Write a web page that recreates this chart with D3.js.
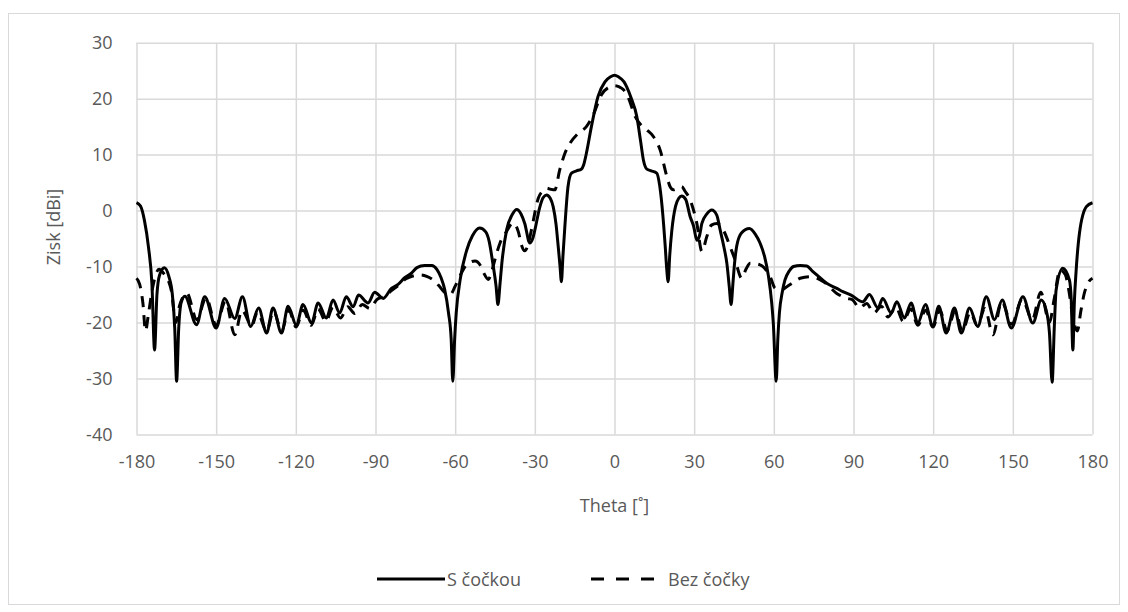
<!DOCTYPE html>
<html><head><meta charset="utf-8">
<script src="https://cdn.jsdelivr.net/npm/d3@7"></script>
<style>
html,body{margin:0;padding:0;background:#fff;}
svg{display:block;}
text{font-family:"Open Sans",sans-serif;fill:#595959;}
</style></head>
<body>
<svg id="chart" width="1128" height="612"></svg>
<script>
// ---- data ----
const xTicks = [-180,-150,-120,-90,-60,-30,0,30,60,90,120,150,180];
const yTicks = [30,20,10,0,-10,-20,-30,-40];
const seriesNames = ["S čočkou","Bez čočky"];

const thetaS = [-180,-178.5,-177,-175.5,-174.2,-173.2,-172.3,-171.3,-169.5,-167.8,-166.5,-165.6,-164.9,-164.1,-163.2,-161.8,
 -157.4,-154.3,-150,-146.8,-143,-140.1,-137,-134,-131,-128.6,-125.4,-122.9,-119.8,-117.3,-114.1,-111.6,-108.5,-106,-103.5,-101,-98.4,-96.4,-92.8,-90.3,-87.1,-84,
 -81.5,-79,-76.5,-74.4,-71.5,-68.8,-66.9,-65.3,-64,-62.5,-61.5,-60.9,-60.2,-59.6,-58.1,-55.6,-53.5,-50.8,-48.5,-47.2,-45.8,-44.6,-43.9,-43.1,-42.4,-40.6,-38.5,-36.8,-35.2,-33.8,-31.9,-30.8,-30,-28.2,-26.9,-25.6,-24.2,-23.1,-22,-21.2,-20.5,-20,-19.4,-18.7,-17.5,-16.2,-14.3,-12.5,-11.6,-10.6,-8.7,-6.2,-3.6,-1.5,
 0,1.5,3.6,4.6,6.2,8.4,9.8,10.9,12.2,13.8,15.9,17,17.8,18.5,19.1,19.6,20.2,20.8,21.6,23,24.2,25.3,26.8,28.5,29.8,31,32,32.9,34.8,36.6,38.5,39.8,41.2,42.3,43.2,43.9,44.6,45.2,46,47.8,50.8,53,54.8,56.5,58,59.2,59.8,60.9,61.5,62.1,63.2,64.2,65.8,67.4,70,72.4,74.5,76.2,79.9,83.7,
 86,89.1,93.5,96,99.2,101,104.2,106.3,109.2,111.7,114.2,117.1,119.9,122.1,124.9,128,130.6,133.7,136.8,140,143.1,146,149.4,153.8,157.5,160.7,162.5,163.8,164.8,165.6,166.3,168.8,171.3,172,172.6,173.2,173.8,175.1,177.7,180];
const gainS = [1.4,0.8,-1.8,-6.5,-13,-24.9,-15,-11.5,-10.2,-11.8,-15,-21,-30.5,-21,-16.5,-15.3,
 -20.4,-15.4,-21,-15.7,-19.3,-15.4,-20.7,-17.4,-21.9,-17.4,-21.9,-17.1,-20.5,-16.8,-20.1,-16.5,-19.2,-16,-18.3,-15.4,-17.2,-15.1,-16.5,-14.6,-15.7,-13.9,
 -13.2,-12,-11.2,-10.2,-9.8,-9.8,-10.5,-12,-14,-18.3,-23,-30.5,-23,-18.3,-12.3,-7,-4.5,-3.1,-3.8,-5.5,-9.5,-13.5,-16.8,-13,-9.3,-3.4,-0.7,0.2,-0.6,-2.3,-5.8,-5,-3.5,0.5,2.3,2.8,2.2,0.7,-2.5,-6.4,-10,-12.7,-8,-2.9,4.3,6.7,7.1,7.4,8.2,10.2,15,20.4,23,23.9,
 24.2,23.9,23,22.1,20.2,16.8,12.5,9,7.4,7.1,6.7,4.5,1.3,-2.5,-6.4,-10,-12.7,-8,-3.5,0.8,2.2,2.6,2,-1.1,-2.8,-5.3,-4.5,-2.3,-0.6,0.1,-0.8,-3.5,-6.5,-9.4,-13.5,-16.8,-13,-9.5,-6.4,-4,-3.2,-4.2,-5.8,-8.2,-11.8,-16.5,-20.1,-30.5,-23,-18.3,-14.5,-12.4,-10.8,-10,-9.8,-9.9,-10.8,-11.5,-13,-13.9,
 -14.5,-15.1,-16.3,-15,-17.4,-15.7,-18.3,-16.3,-19.2,-16.5,-20.1,-16.8,-20.7,-17.1,-21.9,-17.4,-21.9,-17.4,-20.7,-15.4,-19.5,-16,-21,-15.4,-20.1,-16,-17.7,-21.9,-30.7,-21,-14.2,-10.3,-12.4,-16,-24.9,-16,-11,-4,0.7,1.4];

const thetaB = [-180,-178.8,-177.6,-176.6,-175.5,-174.2,-172.8,-171.5,-169.8,-168,-166.8,-165.2,-163.8,-161,-157.3,-153.8,-150,-146.5,-143,-140.3,-136.6,-134.5,-131,-128.4,-125.3,-122.7,-119.9,-117.2,-114.2,-111.6,-108.7,-106,-103.2,-100.5,-97.8,-95,-92.1,-89.5,-86.5,-84,-81.5,-78.5,-76,-73,-70.5,-68,-66,-64,-61.8,-60,-58,-55.6,-52.5,-50.5,-49.3,-47.5,-46.3,-45,-43.1,-40.6,-38.3,-36.2,-35,-33.8,-32.5,-31.3,-28.7,-26.5,-25.6,-24,-22.5,-20.6,-18.7,-16.8,-13.7,-10.6,-8,-4.9,-1.8,
 0,1.8,3.4,4.9,7.8,10.6,12.2,14.7,17.2,19.7,21,22.2,25.3,26.5,28.5,31,32.9,34.8,36.5,38.5,41,43.5,45.4,47.9,49.5,51.1,54.8,58.6,60.5,62.5,64.9,67.5,69.9,73.7,78.7,83.7,87.5,
 89.5,92.3,95,97.6,100.5,103,106,108.7,111.6,114.2,117.2,119.9,122.5,125.2,128.3,131,134,136.6,139.5,142.5,145.8,149.6,153.5,157.3,160.5,163.8,165.5,167.8,169.8,171,172.6,174.3,175.6,176.8,178.5,180];
const gainB = [-12.1,-13.2,-16.5,-21.5,-18.5,-14.5,-11.5,-10.5,-11.2,-12.5,-14.5,-20,-17,-14.8,-19.5,-15.6,-20.5,-16.2,-22.2,-17.8,-20.6,-18.2,-21.5,-18,-21.5,-17.8,-20.8,-17.8,-20.5,-17.6,-19.8,-17.3,-19.2,-17.2,-18.4,-16.8,-17.5,-15.9,-15.3,-14.3,-13.4,-12.2,-11.7,-11.5,-11.8,-12.5,-13.5,-14.6,-15,-13.5,-11.5,-9.6,-9,-9.8,-11.1,-12.3,-11,-8.7,-5.8,-3.7,-2.2,-3.8,-6.2,-7.2,-6,-3.5,2.2,3.7,4,3.8,3.7,7.3,10.2,12,13.8,15,17.1,20.7,22.1,
 22.3,22.1,21.6,20.5,16.8,15,14.4,13.2,10.8,6.1,4.2,3.7,4.3,3.5,1.9,-2.3,-7.3,-4.6,-2.6,-2.3,-3.5,-6.4,-8.8,-12.1,-10.5,-9.4,-9.7,-11.8,-13.9,-14.2,-13.6,-12.8,-12.1,-11.8,-12.7,-14.8,-15.7,
 -15.9,-17.4,-16.6,-18.3,-17.1,-19,-17.3,-19.8,-17.6,-20.5,-17.8,-20.8,-17.8,-21.5,-18,-21.5,-18.2,-20.6,-17.5,-22.2,-16.3,-20.3,-15.8,-19.5,-14.6,-20,-16,-10.6,-11.5,-14,-19,-21.5,-18,-15,-12.8,-12.1];

// ---- layout ----
const svg = d3.select("#chart");
const pL = 136.5, pR = 1092.5, pT = 42.7, pB = 434.4;

svg.append("rect").attr("x",8.5).attr("y",13.5).attr("width",1111).attr("height",591)
  .attr("fill","#fff").attr("stroke","#d9d9d9").attr("stroke-width",1);

const x = d3.scaleLinear().domain([-180,180]).range([pL,pR]);
const y = d3.scaleLinear().domain([-40,30]).range([pB,pT]);
const fmt = d => String(d);

// gridlines
svg.append("g").attr("transform",`translate(0,${pB})`)
  .call(d3.axisBottom(x).tickValues(xTicks).tickSize(-(pB-pT)).tickFormat(""))
  .call(g=>{g.select(".domain").remove(); g.selectAll("line").attr("stroke","#d9d9d9").attr("stroke-width",1.5);});
svg.append("g").attr("transform",`translate(${pL},0)`)
  .call(d3.axisLeft(y).tickValues(yTicks).tickSize(-(pR-pL)).tickFormat(""))
  .call(g=>{g.select(".domain").remove(); g.selectAll("line").attr("stroke","#d9d9d9").attr("stroke-width",1.5);});

// tick labels
svg.append("g").attr("transform",`translate(0,${pB})`)
  .call(d3.axisBottom(x).tickValues(xTicks).tickSize(0).tickPadding(21).tickFormat(fmt))
  .call(g=>{g.select(".domain").remove(); g.selectAll("text").attr("font-size",18).attr("fill","#595959").attr("font-family","'Open Sans',sans-serif");});
svg.append("g").attr("transform",`translate(${pL},0)`)
  .call(d3.axisLeft(y).tickValues(yTicks).tickSize(0).tickPadding(24).tickFormat(fmt))
  .call(g=>{g.select(".domain").remove(); g.selectAll("text").attr("font-size",18).attr("fill","#595959").attr("font-family","'Open Sans',sans-serif");});

// axis titles
svg.append("text").attr("x",(pL+pR)/2).attr("y",512).attr("text-anchor","middle")
  .attr("font-size",18).text("Theta [˚]");
svg.append("text").attr("transform","translate(60,227) rotate(-90)").attr("text-anchor","middle")
  .attr("font-size",18).text("Zisk [dBi]");

// lines
const line = d3.line().x(d=>x(d[0])).y(d=>y(d[1])).curve(d3.curveMonotoneX);
const dataS = thetaS.map((t,i)=>[t,gainS[i]]);
const dataB = thetaB.map((t,i)=>[t,gainB[i]]);
svg.append("path").datum(dataB).attr("d",line).attr("fill","none").attr("stroke","#000")
  .attr("stroke-width",3).attr("stroke-dasharray","11,8");
svg.append("path").datum(dataS).attr("d",line).attr("fill","none").attr("stroke","#000")
  .attr("stroke-width",3);

// legend
const lg = svg.append("g");
lg.append("line").attr("x1",377).attr("x2",445).attr("y1",579).attr("y2",579).attr("stroke","#000").attr("stroke-width",3);
lg.append("text").attr("x",447).attr("y",585.5).attr("font-size",18).text(seriesNames[0]);
lg.append("line").attr("x1",591).attr("x2",654).attr("y1",579).attr("y2",579).attr("stroke","#000").attr("stroke-width",3).attr("stroke-dasharray","13,12");
lg.append("text").attr("x",668).attr("y",585.5).attr("font-size",18).text(seriesNames[1]);
</script>
</body></html>
